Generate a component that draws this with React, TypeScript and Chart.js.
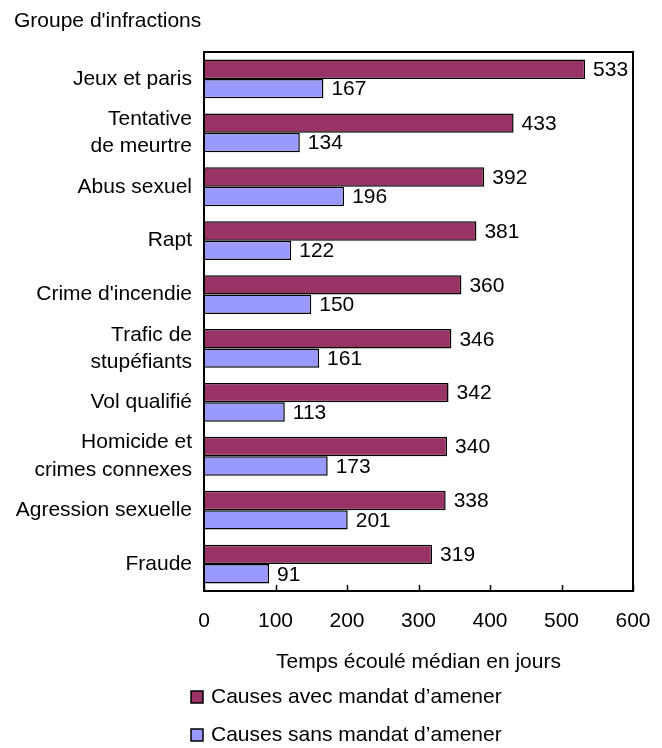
import React, { useEffect, useRef } from "react";
import { Chart, registerables } from "chart.js";

Chart.register(...registerables);

const categories: string[][] = [
  ["Jeux et paris"],
  ["Tentative", "de meurtre"],
  ["Abus sexuel"],
  ["Rapt"],
  ["Crime d'incendie"],
  ["Trafic de", "stupéfiants"],
  ["Vol qualifié"],
  ["Homicide et", "crimes connexes"],
  ["Agression sexuelle"],
  ["Fraude"],
];
const avecMandat = [533, 433, 392, 381, 360, 346, 342, 340, 338, 319];
const sansMandat = [167, 134, 196, 122, 150, 161, 113, 173, 201, 91];
const seriesNames = ["Causes avec mandat d\u2019amener", "Causes sans mandat d\u2019amener"];
const axisTitle = "Temps écoulé médian en jours";
const groupTitle = "Groupe d'infractions";
const xTicks = [0, 100, 200, 300, 400, 500, 600];

const FONT = "'Liberation Sans', Arial, sans-serif";
const FS = 21;

const decorPlugin = {
  id: "decor",
  afterDatasetsDraw(chart: any) {
    const ctx = chart.ctx;
    const area = chart.chartArea;
    const xs = chart.scales.x;
    ctx.save();
    ctx.strokeStyle = "#000";
    ctx.lineWidth = 2;
    ctx.strokeRect(area.left, area.top, area.right - area.left, area.bottom - area.top);
    ctx.lineWidth = 1.5;
    xTicks.forEach((v) => {
      const px = Math.round(xs.getPixelForValue(v)) + 0.5;
      ctx.beginPath();
      ctx.moveTo(px, area.bottom);
      ctx.lineTo(px, area.bottom - 6);
      ctx.stroke();
    });
    ctx.font = `${FS}px ${FONT}`;
    ctx.fillStyle = "#000";
    ctx.textAlign = "left";
    ctx.textBaseline = "middle";
    chart.data.datasets.forEach((ds: any, di: number) => {
      const meta = chart.getDatasetMeta(di);
      meta.data.forEach((bar: any, i: number) => {
        ctx.fillText(String(ds.data[i]), bar.x + 8, bar.y + 1);
      });
    });
    ctx.fillText(groupTitle, 14, 21);
    ctx.textAlign = "center";
    ctx.fillText(axisTitle, (area.left + area.right) / 2, 662);
    ctx.textAlign = "left";
    const legendY = [697, 735];
    chart.data.datasets.forEach((ds: any, di: number) => {
      const y = legendY[di];
      ctx.fillStyle = ds.backgroundColor;
      ctx.fillRect(191, y - 6, 12, 12);
      ctx.strokeStyle = "#000";
      ctx.lineWidth = 1.5;
      ctx.strokeRect(191, y - 6, 12, 12);
      ctx.fillStyle = "#000";
      ctx.fillText(ds.label, 211, y);
    });
    ctx.restore();
  },
};

export default function App() {
  const ref = useRef<HTMLCanvasElement | null>(null);
  useEffect(() => {
    if (!ref.current) return;
    const chart = new Chart(ref.current, {
      type: "bar",
      data: {
        labels: categories,
        datasets: [
          {
            label: seriesNames[0],
            data: avecMandat,
            backgroundColor: "#993366",
            borderColor: "#000",
            borderWidth: 1.5,
            categoryPercentage: 0.72,
            barPercentage: 1,
          },
          {
            label: seriesNames[1],
            data: sansMandat,
            backgroundColor: "#9999FF",
            borderColor: "#000",
            borderWidth: 1.5,
            categoryPercentage: 0.72,
            barPercentage: 1,
          },
        ],
      },
      options: {
        indexAxis: "y",
        responsive: false,
        animation: false,
        events: [],
        layout: { autoPadding: false, padding: { top: 52, right: 29, left: 0, bottom: 0 } },
        plugins: {
          legend: { display: false },
          tooltip: { enabled: false },
          title: { display: false },
        },
        scales: {
          x: {
            min: 0,
            max: 600,
            grid: {
              display: true,
              drawOnChartArea: false,
              drawTicks: true,
              tickLength: 15,
              color: "rgba(0,0,0,0)",
              tickColor: "rgba(0,0,0,0)",
            },
            border: { display: false },
            ticks: {
              stepSize: 100,
              padding: 3,
              color: "#000",
              font: { family: FONT, size: FS },
              maxRotation: 0,
            },
            afterFit: (s: any) => {
              s.height = 157;
            },
          },
          y: {
            grid: { display: false, drawTicks: false },
            border: { display: false },
            ticks: {
              autoSkip: false,
              padding: 12,
              color: "#000",
              font: { family: FONT, size: FS, lineHeight: 1.3 },
            },
            afterFit: (s: any) => {
              s.width = 204;
            },
          },
        },
      },
      plugins: [decorPlugin],
    });
    return () => chart.destroy();
  }, []);
  return (
    <div style={{ position: "absolute", left: 0, top: 0, width: 662, height: 748, background: "#fff" }}>
      <canvas ref={ref} width={662} height={748} />
    </div>
  );
}
